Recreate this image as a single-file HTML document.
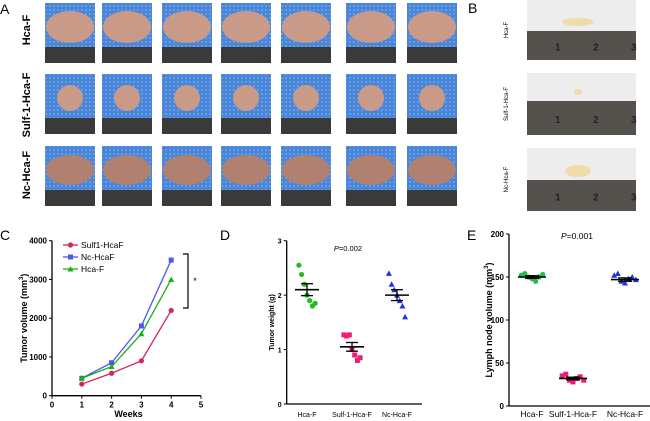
<!DOCTYPE html>
<html><head><meta charset="utf-8"><style>
body{margin:0;background:#fff;width:650px;height:421px;overflow:hidden;font-family:"Liberation Sans",sans-serif}
svg{position:absolute;left:0;top:0}
</style></head><body>
<svg id="s" width="650" height="421" viewBox="0 0 650 421" font-family="Liberation Sans, sans-serif">
<defs>
<pattern id="mesh" width="4" height="4" patternUnits="userSpaceOnUse"><rect width="4" height="4" fill="#4a86d8"/><circle cx="2" cy="2" r="1" fill="#6fa3ea"/></pattern>
</defs>
<g id="A"></g>
<g id="B"></g>
<g id="C"></g>
<g id="D"></g>
<g id="E"></g>
</svg>
<script>
// ---- Chart C data ----
const weeks=[1,2,3,4];
const sulfVol=[300,580,900,2200];
const ncVol=[450,850,1800,3500];
const hcaVol=[450,750,1600,3000];
const cYTicks=[0,1000,2000,3000,4000];
const cXTicks=[0,1,2,3,4,5];
// ---- Chart D data ----
const dCats=["Hca-F","Sulf-1-Hca-F","Nc-Hca-F"];
const dHca=[2.55,2.38,2.2,2.0,1.9,1.8,1.85];
const dSulf=[1.27,1.25,1.27,1.0,0.9,0.8,0.85];
const dNc=[2.4,2.2,2.1,2.0,1.9,1.8,1.6];
const dMeans=[2.1,1.05,2.0];
const dSem=[0.11,0.08,0.1];
const dYTicks=[0,1,2,3];
// ---- Chart E data ----
const eCats=["Hca-F","Sulf-1-Hca-F","Nc-Hca-F"];
const eHca=[152,154,150,148,145,150,153];
const eSulf=[35,37,30,28,32,34,30];
const eNc=[152,154,145,143,148,150,147];
const eMeans=[150,32,147];
const eSem=[1.5,1.5,2];
const eYTicks=[0,50,100,150,200];

const NS="http://www.w3.org/2000/svg";
function mk(parent,tag,attrs,text){const e=document.createElementNS(NS,tag);for(const k in attrs)e.setAttribute(k,attrs[k]);if(text!==undefined)e.textContent=text;parent.appendChild(e);return e;}

// ---- Panel A ----
const A=document.getElementById('A');
let t=mk(A,'text',{x:0,y:14,'font-size':14},'A');


const colsX=[45,102,162,221,281,346,407];
const rowsY=[3,74,146];
const rowLabels=["Hca-F","Sulf-1-Hca-F","Nc-Hca-F"];
const rowLabelY=[30,105,175];
const sizes=[[24,16],[13,13],[24,15]];
rowsY.forEach((ry,ri)=>{
  const l=mk(A,'text',{x:0,y:0,'font-size':11,'font-weight':'bold','text-anchor':'middle',transform:`translate(30,${rowLabelY[ri]}) rotate(-90)`},rowLabels[ri]);
  
  
  colsX.forEach(cx=>{
    const g=mk(A,'g',{});
    
    
    mk(g,'rect',{x:cx,y:ry,width:50,height:44,fill:'url(#mesh)'});
    mk(g,'rect',{x:cx,y:ry+44,width:50,height:16,fill:'#3a3a3a'});
    mk(g,'ellipse',{cx:cx+25,cy:ry+24,rx:sizes[ri][0],ry:sizes[ri][1],fill:ri==2?'#b08070':'#c99a88'});
  });
});

// ---- Panel B ----
const B=document.getElementById('B');
t=mk(B,'text',{x:468,y:13,'font-size':14},'B');


const bRows=[[0,31,60],[73,101,135],[148,180,211]];
const bLabels=["Hca-F","Sulf-1-Hca-F","Nc-Hca-F"];
const bSizes=[[16,4],[4,3],[13,6]];
bRows.forEach((r,i)=>{
  const g=mk(B,'g',{});
  
  
  mk(g,'rect',{x:527,y:r[0],width:109,height:r[1]-r[0],fill:'#ededed'});
  mk(g,'rect',{x:527,y:r[1],width:109,height:r[2]-r[1],fill:'#55524d'});
  mk(g,'ellipse',{cx:578,cy:r[1]-9,rx:bSizes[i][0],ry:bSizes[i][1],fill:'#efdcaa'});
  ["1","2","3"].forEach((n,k)=>mk(g,'text',{x:555+k*38,y:(r[1]+r[2])/2+5,'font-size':10,'font-weight':'bold',fill:'#222'},n));
  const l=mk(B,'text',{x:0,y:0,'font-size':6,'text-anchor':'middle',transform:`translate(508,${(r[0]+r[2])/2}) rotate(-90)`},bLabels[i]);
  
  
});

// ---- Panel C ----
const C=document.getElementById('C');
const cx0=52,cxPer=29.8,cy0=395.7,cyTop=240.7;
const xC=v=>cx0+v*cxPer, yC=v=>cy0-(v/4000)*(cy0-cyTop);
t=mk(C,'text',{x:0,y:240,'font-size':14},'C');


mk(C,'line',{x1:cx0,y1:cyTop,x2:cx0,y2:cy0,stroke:'#000','stroke-width':1.3});
mk(C,'line',{x1:cx0,y1:cy0,x2:xC(5),y2:cy0,stroke:'#000','stroke-width':1.3});
cYTicks.forEach(v=>{mk(C,'line',{x1:cx0-3,y1:yC(v),x2:cx0,y2:yC(v),stroke:'#000'});
  const tt=mk(C,'text',{x:cx0-5,y:yC(v)+3,'font-size':8,'font-weight':'bold','text-anchor':'end'},v);
  });
cXTicks.forEach(v=>{mk(C,'line',{x1:xC(v),y1:cy0,x2:xC(v),y2:cy0+3,stroke:'#000'});
  const tt=mk(C,'text',{x:xC(v),y:cy0+12,'font-size':8,'font-weight':'bold','text-anchor':'middle'},v);
  });
t=mk(C,'text',{x:xC(2.5)+2,y:417,'font-size':9,'font-weight':'bold','text-anchor':'middle'},'Weeks');

t=mk(C,'text',{x:0,y:0,'font-size':9,'font-weight':'bold','text-anchor':'middle',transform:`translate(27,${(cy0+cyTop)/2}) rotate(-90)`});

t.innerHTML='Tumor volume (mm<tspan dy="-4" font-size="6">3</tspan><tspan dy="4">)</tspan>';
const series=[[sulfVol,'#d6245a','circle','Sulf1-HcaF'],[ncVol,'#4f55f0','square','Nc-HcaF'],[hcaVol,'#17b217','tri',' Hca-F']];
function marker(g,shape,x,y,c){
  if(shape=='circle')return mk(g,'circle',{cx:x,cy:y,r:2.6,fill:c});
  if(shape=='square')return mk(g,'rect',{x:x-2.5,y:y-2.5,width:5,height:5,fill:c});
  return mk(g,'polygon',{points:`${x},${y-3} ${x-3},${y+2.5} ${x+3},${y+2.5}`,fill:c});
}
series.forEach((s,i)=>{
  const g=mk(C,'g',{});
  
  
  mk(g,'polyline',{points:weeks.map((w,k)=>xC(w)+','+yC(s[0][k])).join(' '),fill:'none',stroke:s[1],'stroke-width':1.3});
  weeks.forEach((w,k)=>{const m=marker(g,s[2],xC(w),yC(s[0][k]),s[1]);});
  const ly=245+i*12;
  const lg=mk(C,'g',{});
  
  
  mk(lg,'line',{x1:63,y1:ly,x2:78,y2:ly,stroke:s[1],'stroke-width':1.3});
  marker(lg,s[2],70.5,ly,s[1]);
  mk(lg,'text',{x:81,y:ly+3,'font-size':8.5},s[3]);
});
const br=mk(C,'path',{d:'M183,254 H188 V308 H183',fill:'none',stroke:'#000','stroke-width':1.2});

mk(C,'text',{x:195,y:284,'font-size':9,'text-anchor':'middle'},'*');

// ---- scatter helper ----
function scatter(G,opt){
  const {ax,yTop,yBot,max,ticks,catX,cats,groups,means,sems,shapes,colors,label,lx,title,tx,p,px,py,hw}=opt;
  const yS=v=>yBot-(v/max)*(yBot-yTop);
  let t=mk(G,'text',{x:lx,y:240,'font-size':14},label);
  
  mk(G,'line',{x1:ax,y1:yTop,x2:ax,y2:yBot,stroke:'#000','stroke-width':1.3});
  mk(G,'line',{x1:ax,y1:yBot,x2:catX[2]+25,y2:yBot,stroke:'#000','stroke-width':1.3});
  ticks.forEach(v=>{mk(G,'line',{x1:ax-3,y1:yS(v),x2:ax,y2:yS(v),stroke:'#000'});
    const tt=mk(G,'text',{x:ax-5,y:yS(v)+3,'font-size':opt.tfs,'font-weight':'bold','text-anchor':'end'},v);
    });
  cats.forEach((c,i)=>{const tt=mk(G,'text',{x:catX[i],y:417,'font-size':opt.cfs,'text-anchor':'middle'},c);
    });
  t=mk(G,'text',{x:0,y:0,'font-size':opt.afs,'font-weight':'bold','text-anchor':'middle',transform:`translate(${tx},${(yTop+yBot)/2}) rotate(-90)`});
  
  t.innerHTML=title;
  t=mk(G,'text',{x:px,y:py,'font-size':opt.pfs,'text-anchor':'middle'});
  
  t.innerHTML='<tspan font-style="italic">P</tspan>='+p;
  const offs=[-9,-6,-3,0,3,6,9];
  groups.forEach((arr,gi)=>{
    const g=mk(G,'g',{});
    
    
    arr.forEach((v,k)=>{const m=marker(g,shapes[gi],catX[gi]+offs[k]*opt.spread,yS(v),colors[gi]);
      });
    const x=catX[gi],m=yS(means[gi]),s1=yS(means[gi]+sems[gi]),s2=yS(means[gi]-sems[gi]);
    mk(g,'line',{x1:x-hw,y1:m,x2:x+hw,y2:m,stroke:'#000','stroke-width':1.6});
    mk(g,'line',{x1:x-hw/2,y1:s1,x2:x+hw/2,y2:s1,stroke:'#000','stroke-width':1.3});
    mk(g,'line',{x1:x-hw/2,y1:s2,x2:x+hw/2,y2:s2,stroke:'#000','stroke-width':1.3});
    mk(g,'line',{x1:x,y1:s1,x2:x,y2:s2,stroke:'#000','stroke-width':1.3});
  });
}
scatter(document.getElementById('D'),{ax:286.7,yTop:240.7,yBot:404,max:3,ticks:dYTicks,catX:[307,352,397],cats:dCats,
  groups:[dHca,dSulf,dNc],means:dMeans,sems:dSem,shapes:['circle','square','tri'],colors:['#22bb22','#ee1c78','#2233dd'],
  label:'D',lx:220,title:'Tumor weight (g)',tx:274,p:'0.002',px:348,py:251,hw:12,tfs:7,cfs:7,afs:7,pfs:7.5,spread:0.9});
scatter(document.getElementById('E'),{ax:509,yTop:234,yBot:406,max:200,ticks:eYTicks,catX:[532,573,625],cats:eCats,
  groups:[eHca,eSulf,eNc],means:eMeans,sems:eSem,shapes:['circle','square','tri'],colors:['#1fbb55','#ee1c78','#2233dd'],
  label:'E',lx:467,title:'Lymph node volume (mm<tspan dy="-4" font-size="6">3</tspan><tspan dy="4">)</tspan>',tx:492,p:'0.001',px:577,py:239,hw:14,tfs:8,cfs:8.5,afs:9,pfs:8.5,spread:1.2});
</script>
</body></html>
